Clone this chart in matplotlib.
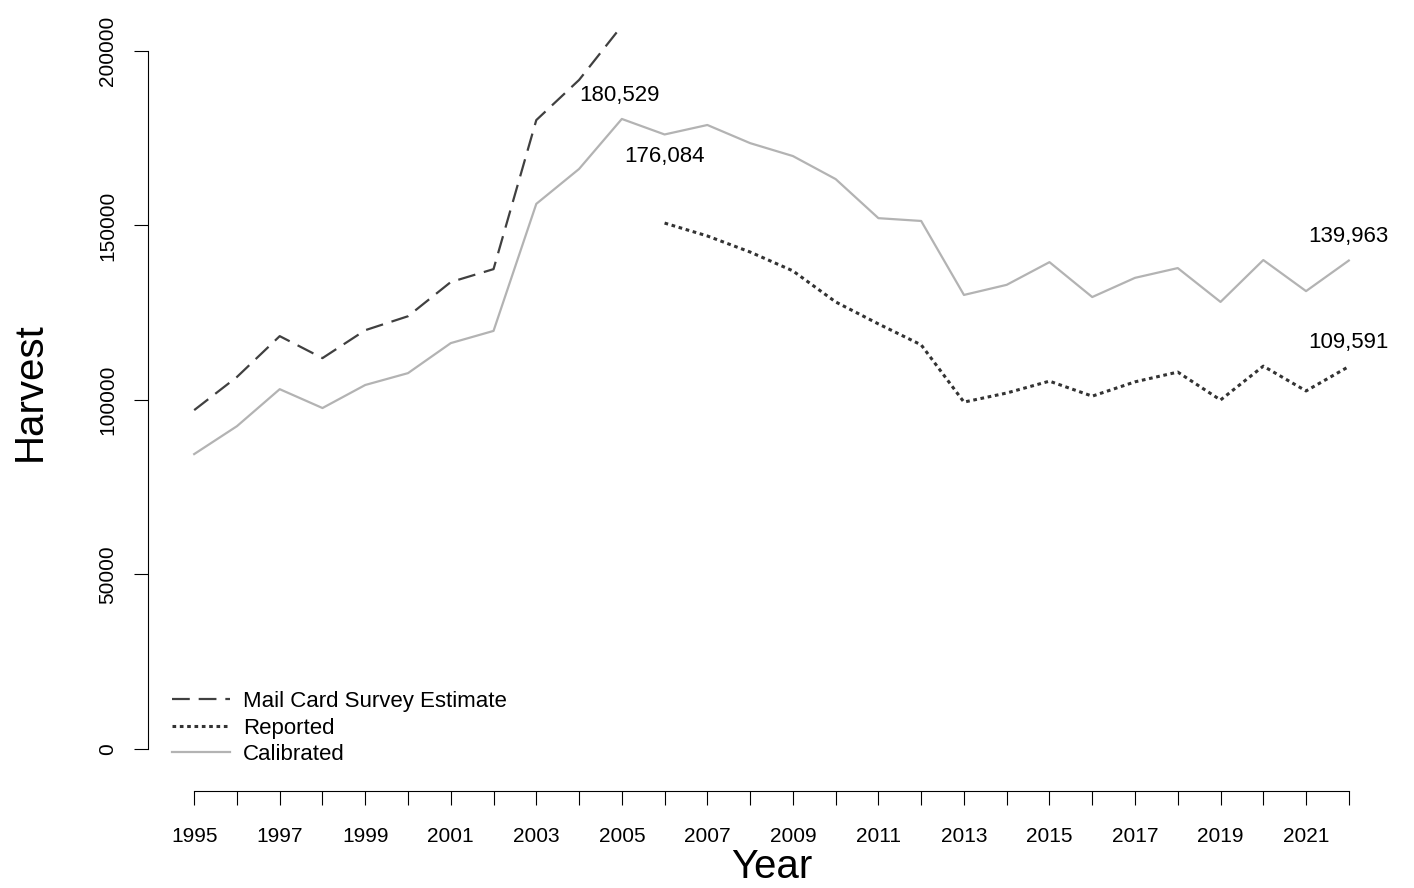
import numpy as np
import matplotlib.pyplot as plt

plt.rcParams['font.family'] = ['Liberation Sans', 'DejaVu Sans']

years = np.arange(1995, 2023)
mail_years = np.arange(1995, 2006)
mail = [97100, 106600, 118300, 112000, 120000, 124000, 133800, 137500, 180200, 191700, 207200]
rep_years = np.arange(2006, 2023)
reported = [150700, 147000, 142400, 137000, 128100, 121800, 115800, 99400, 102000, 105400,
            101100, 105200, 108000, 100000, 109700, 102600, 109591]
calibrated = [84500, 92500, 103100, 97700, 104300, 107700, 116300, 119800, 156200, 166200,
              180529, 176084, 178800, 173600, 169900, 163300, 152100, 151300, 130100, 133000,
              139500, 129500, 135000, 137800, 128100, 140100, 131200, 139963]

fig = plt.figure(figsize=(14.14, 8.88), dpi=100)
ax = fig.add_axes([148/1414, 110/888, 1247/1414, 773/888])

ax.plot(mail_years, mail, color='#404040', lw=1.6, dashes=(8, 4), label='Mail Card Survey Estimate')
ax.plot(rep_years, reported, color='#333333', lw=2.2, linestyle=(0, (1.2, 1.2)), label='Reported')
ax.plot(years, calibrated, color='#b3b3b3', lw=1.6, label='Calibrated')

ax.set_xlim(1993.92, 2023.08)
ax.set_ylim(-8310, 213180)

for s in ['top', 'right']:
    ax.spines[s].set_visible(False)
ax.spines['left'].set_bounds(0, 200000)
ax.spines['bottom'].set_bounds(1995, 2022)
ax.spines['bottom'].set_position(('outward', 9))
ax.spines['left'].set_linewidth(0.8)
ax.spines['bottom'].set_linewidth(0.8)

ax.set_xticks(years)
ax.set_xticklabels([str(y) if (y - 1995) % 2 == 0 else '' for y in years])
ax.set_yticks([0, 50000, 100000, 150000, 200000])
ax.set_yticklabels(['0', '50000', '100000', '150000', '200000'], rotation=90, va='center')
ax.tick_params(axis='both', direction='out', length=10, width=0.8, labelsize=15)
ax.tick_params(axis='x', pad=16)
ax.tick_params(axis='y', pad=12)

ax.set_xlabel('Year', fontsize=29, labelpad=2)
ax.set_ylabel('Harvest', fontsize=29, labelpad=36)

ann = [(2005, 180529, -2, 17), (2006, 176084, 0, -16), (2022, 139963, 0, 17), (2022, 109591, 0, 17)]
for x, y, dx, dy in ann:
    ax.annotate(f'{y:,}', (x, y), xytext=(dx, dy), textcoords='offset points',
                ha='center', va='center', fontsize=16)

ax.legend(loc='lower left', bbox_to_anchor=(0.012, 0.005), frameon=False, fontsize=16,
          handlelength=2.6, handletextpad=0.6, labelspacing=0.25, borderaxespad=0)

fig.savefig('out.png', dpi=100)
